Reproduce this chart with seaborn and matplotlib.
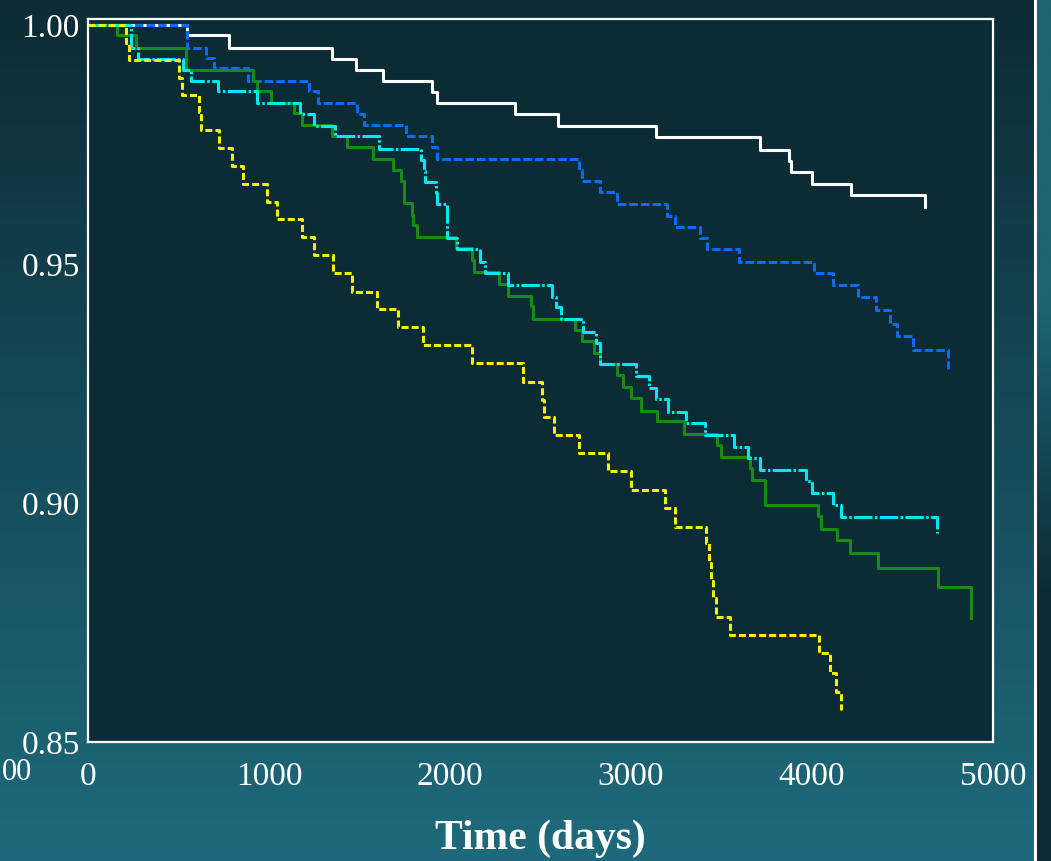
import numpy as np
import pandas as pd
import matplotlib
matplotlib.use("Agg")
import matplotlib.pyplot as plt
import seaborn as sns
from matplotlib.colors import to_rgb

# Kaplan-Meier step data: event times (days) and survival after each drop
t_white = [546, 778, 1347, 1479, 1628, 1899, 1926, 2357, 2599, 3140, 3714, 3874, 3885, 4001, 4217, 4625]
s_white = [0.9979, 0.9952, 0.9929, 0.9906, 0.9883, 0.9860, 0.9837, 0.9814, 0.9789, 0.9766, 0.9738,
           0.9715, 0.9692, 0.9667, 0.9644, 0.9619]

t_blue = [546, 651, 695, 883, 1220, 1269, 1485, 1523, 1755, 1899, 1926, 2710, 2732, 2826, 2925, 3201,
          3245, 3383, 3422, 3598, 4012, 4117, 4255, 4355, 4432, 4470, 4559, 4752]
s_blue = [0.9952, 0.9931, 0.9910, 0.9883, 0.9862, 0.9837, 0.9814, 0.9791, 0.9768, 0.9745, 0.9720,
          0.9697, 0.9674, 0.9651, 0.9626, 0.9600, 0.9577, 0.9554, 0.9531, 0.9504, 0.9481, 0.9456,
          0.9431, 0.9404, 0.9374, 0.9349, 0.9320, 0.9280]

t_green = [160, 265, 541, 911, 933, 1010, 1137, 1181, 1347, 1429, 1573, 1683, 1727, 1744, 1788, 1794,
           1816, 2031, 2119, 2130, 2268, 2323, 2450, 2456, 2693, 2732, 2798, 2826, 2920, 2958, 3002,
           3058, 3146, 3295, 3477, 3499, 3659, 3670, 3742, 4034, 4051, 4139, 4211, 4366, 4697, 4879]
s_green = [0.9979, 0.9952, 0.9906, 0.9883, 0.9862, 0.9837, 0.9816, 0.9791, 0.9768, 0.9745, 0.9720,
           0.9697, 0.9674, 0.9628, 0.9603, 0.9582, 0.9556, 0.9533, 0.9508, 0.9483, 0.9458, 0.9433,
           0.9412, 0.9385, 0.9362, 0.9339, 0.9314, 0.9291, 0.9268, 0.9243, 0.9220, 0.9192, 0.9172,
           0.9144, 0.9121, 0.9096, 0.9073, 0.9048, 0.8996, 0.8973, 0.8946, 0.8923, 0.8895, 0.8864,
           0.8824, 0.8759]

t_cyan = [237, 276, 524, 568, 717, 933, 1170, 1247, 1363, 1606, 1838, 1854, 1860, 1921, 1926, 1981,
          2037, 2163, 2191, 2323, 2561, 2588, 2616, 2737, 2804, 2826, 3030, 3102, 3140, 3207, 3306,
          3411, 3571, 3648, 3714, 3968, 4001, 4117, 4161, 4691]
s_cyan = [0.9952, 0.9929, 0.9906, 0.9883, 0.9862, 0.9837, 0.9814, 0.9789, 0.9768, 0.9741, 0.9718,
          0.9695, 0.9672, 0.9649, 0.9626, 0.9554, 0.9531, 0.9504, 0.9481, 0.9456, 0.9431, 0.9410,
          0.9385, 0.9358, 0.9335, 0.9291, 0.9266, 0.9241, 0.9218, 0.9190, 0.9167, 0.9142, 0.9117,
          0.9094, 0.9069, 0.9046, 0.9021, 0.8996, 0.8971, 0.8937]

t_yellow = [210, 226, 502, 519, 613, 624, 723, 795, 855, 988, 1043, 1181, 1247, 1352, 1457, 1595,
            1711, 1849, 2119, 2401, 2506, 2517, 2572, 2710, 2875, 3002, 3190, 3245, 3416, 3433, 3444,
            3455, 3471, 3549, 4040, 4101, 4134, 4161]
s_yellow = [0.9962, 0.9927, 0.9889, 0.9854, 0.9818, 0.9780, 0.9743, 0.9705, 0.9667, 0.9630, 0.9594,
            0.9556, 0.9519, 0.9481, 0.9441, 0.9406, 0.9368, 0.9331, 0.9293, 0.9253, 0.9216, 0.9180,
            0.9142, 0.9105, 0.9067, 0.9027, 0.8990, 0.8950, 0.8916, 0.8875, 0.8837, 0.8801, 0.8762,
            0.8724, 0.8686, 0.8644, 0.8605, 0.8567]

x_ticks = [0, 1000, 2000, 3000, 4000, 5000]
y_ticks = [0.85, 0.90, 0.95, 1.00]

plt.rcParams["font.family"] = ["Liberation Serif", "DejaVu Serif"]

W, H = 1051, 861
fig = plt.figure(figsize=(W / 100, H / 100), dpi=100)

# vertical gradient backdrop
bg = fig.add_axes([0, 0, 1, 1], zorder=-10)
top_c = np.array(to_rgb("#0c2b35"))
bot_c = np.array(to_rgb("#1e6a7c"))
f = np.linspace(0, 1, 512)[:, None, None]
grad = top_c * (1 - f) + bot_c * f
bg.imshow(grad, aspect="auto", extent=[0, 1, 0, 1], origin="upper")
bg.set_xlim(0, 1)
bg.set_ylim(0, 1)
bg.axis("off")

# neighbouring panel strip at the right edge
strip = fig.add_axes([1036 / W, 0, (W - 1036) / W, 1], zorder=-5)
s_top = np.array(to_rgb("#1d6474"))
s_bot = np.array(to_rgb("#0b2a33"))
g2 = np.clip((f - 0.35) / 0.35, 0, 1)
strip.imshow(s_top * (1 - g2) + s_bot * g2, aspect="auto", extent=[0, 1, 0, 1], origin="upper")
strip.axis("off")
fig.add_artist(plt.Line2D([1034.5 / W, 1034.5 / W], [0, 1], color="white", lw=2.2,
                          transform=fig.transFigure))

ax = fig.add_axes([88 / W, 1 - 742 / H, (993 - 88) / W, (742 - 19) / H])
ax.set_facecolor("#0b2b35")

series = [
    (t_white, s_white, "#ffffff", "-"),
    (t_blue, s_blue, "#0a6cf0", (0, (2.8, 1.0))),
    (t_green, s_green, "#178a17", "-"),
    (t_cyan, s_cyan, "#00e8f0", (0, (6.0, 0.8, 0.8, 0.8))),
    (t_yellow, s_yellow, "#f2f200", (0, (2.3, 1.0))),
]
for t, s, col, ls in series:
    df = pd.DataFrame({"days": [0] + list(t), "surv": [1.0] + list(s)})
    sns.lineplot(data=df, x="days", y="surv", estimator=None, sort=False, errorbar=None,
                 drawstyle="steps-post", color=col, linestyle=ls, lw=2.2, ax=ax, legend=False)

ax.set_xlim(0, 5000)
ax.set_ylim(0.85, 1.00126)
ax.set_xticks(x_ticks)
ax.set_xticklabels([str(v) for v in x_ticks])
ax.set_yticks(y_ticks)
ax.set_yticklabels([f"{v:.2f}" for v in y_ticks])
ax.tick_params(axis="both", length=0, colors="white", labelsize=24)
ax.tick_params(axis="x", pad=14)
ax.tick_params(axis="y", pad=6)
for sp in ax.spines.values():
    sp.set_color("white")
    sp.set_linewidth(1.6)
ax.grid(False)
ax.set_ylabel("")
ax.set_xlabel("Time (days)", color="white", fontsize=30, fontweight="bold", labelpad=20)

# trailing tick digits of the panel to the left
fig.text(2 / W, 1 - 773 / H, "00", color="white", fontsize=22, ha="left", va="center")

fig.savefig("out.png", dpi=100)
